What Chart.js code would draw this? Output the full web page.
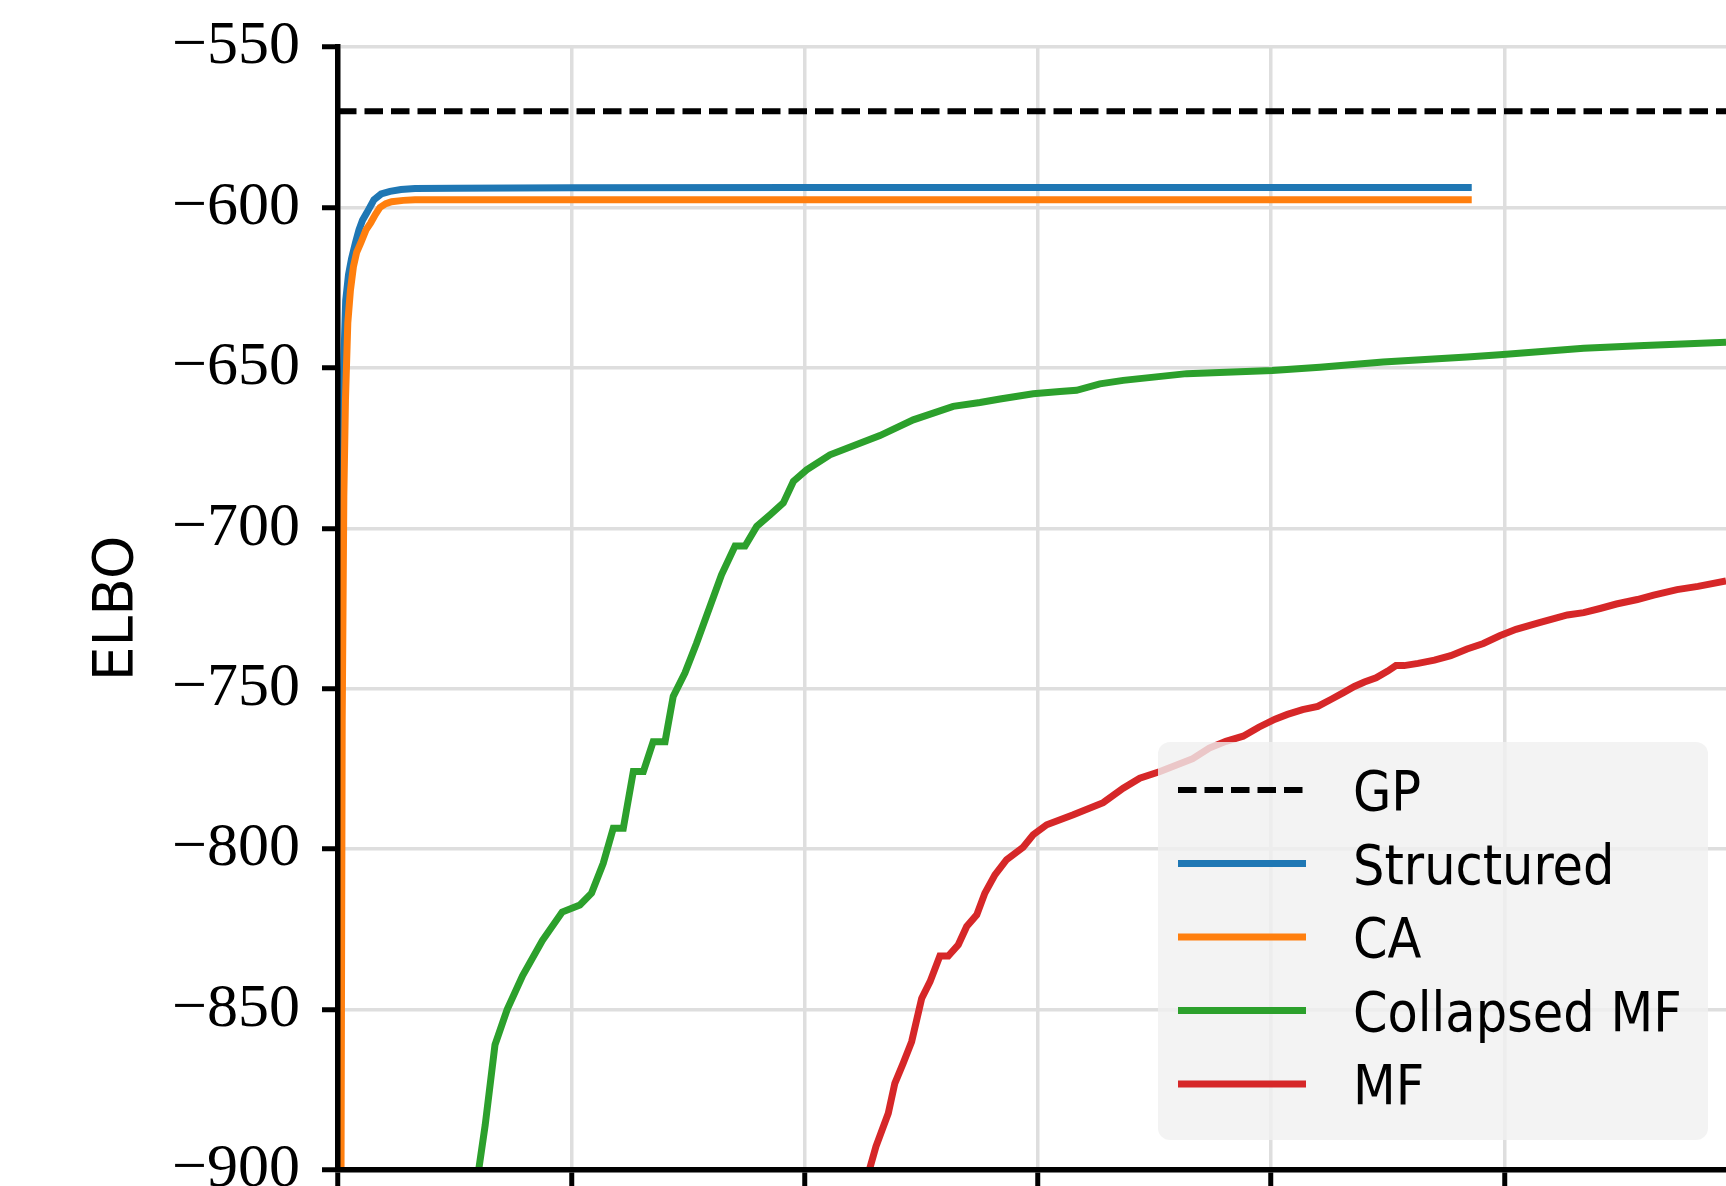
<!DOCTYPE html>
<html>
<head>
<meta charset="utf-8">
<script src="https://cdn.jsdelivr.net/npm/chart.js@4.4.0/dist/chart.umd.min.js"></script>
<style>
  html, body { margin: 0; padding: 0; background: #fff; overflow: hidden; }
  canvas { display: block; }
</style>
</head>
<body>
<canvas id="elbo" width="1726" height="1186"></canvas>
<script>
// x tick labels are cropped off in the source figure, so x is in plain units (100 per grid step)
const xTicks = [0, 100, 200, 300, 400, 500];
const yTicks = [-900, -850, -800, -750, -700, -650, -600, -550];

const gpX = [0, 595];
const gpY = [-570, -570];

const structuredX = [0.3, 0.9, 1.5, 2.2, 3.3, 4.5, 5.8, 7.5, 9, 10.5, 12.4, 15.4, 18.5, 22.3, 27, 33, 50, 100, 200, 300, 400, 486];
const structuredY = [-950, -760, -690, -655, -629, -621, -616, -611, -607, -604, -601.6, -597.6, -595.8, -595, -594.4, -594.1, -594.0, -593.9, -593.8, -593.8, -593.8, -593.8];

const caX = [0.5, 1.3, 1.8, 2.5, 3.2, 4.2, 5.3, 6.6, 8, 9.8, 12, 14, 16, 18, 20.5, 23, 28, 33, 50, 100, 200, 300, 400, 486];
const caY = [-1000, -900, -760, -690, -660, -636, -626, -618.5, -614, -611, -607, -604.8, -602.2, -600, -598.8, -598.2, -597.8, -597.6, -597.6, -597.6, -597.6, -597.6, -597.6, -597.6];

const collapsedX = [59.5, 63.1, 67.3, 72.5, 79.1, 87.6, 96.1, 103.7, 108.7, 113.7, 118.0, 122.3, 126.6, 130.9, 135.1, 140.2, 143.7, 148.7, 153.7, 164.4, 170.2, 174.5, 179.5, 185.2, 190.9, 195.2, 200.9, 210.9, 232.3, 246.6, 263.7, 275.2, 283.8, 298.0, 309.5, 316.6, 326.6, 336.6, 363.8, 400.5, 420.9, 448, 484, 498, 534, 560, 595];
const collapsedY = [-904, -886, -861, -850, -839.5, -828.5, -819.6, -817.4, -813.7, -804.4, -793.5, -793.5, -775.8, -775.8, -766.5, -766.5, -752.4, -745.1, -735.8, -714.5, -705.5, -705.5, -699.4, -695.8, -692.1, -685.4, -681.8, -677.1, -671.1, -666.2, -662.0, -660.8, -659.7, -658.1, -657.4, -657.0, -655.0, -653.9, -651.8, -650.8, -649.8, -648.2, -646.6, -645.9, -643.9, -643.0, -642.0];

const mfX = [226.5, 228.0, 230.6, 235.9, 238.7, 242.3, 245.9, 250.2, 253.8, 258.0, 261.6, 265.9, 269.5, 273.8, 277.3, 281.6, 286.6, 293.7, 298.0, 303.8, 315.2, 328.0, 336.6, 343.7, 352.4, 366.4, 373.5, 380.6, 388, 394.7, 401.7, 407, 413.5, 420, 426, 431, 435.7, 440, 445, 450, 453.5, 457, 463, 470, 477, 484, 491, 498, 505, 515, 522, 527, 534, 541, 548, 557, 564, 574, 583, 595];
const mfY = [-905, -899.4, -892.7, -882.3, -873.0, -866.7, -860.0, -846.5, -841.3, -833.3, -833.3, -829.8, -824.1, -820.5, -813.7, -808.0, -803.3, -799.4, -795.5, -792.4, -789.3, -785.5, -781.0, -777.9, -775.8, -771.8, -768.5, -766.4, -764.8, -762.0, -759.5, -758.0, -756.5, -755.5, -753.2, -751.2, -749.3, -747.9, -746.6, -744.5, -742.8, -742.8, -742.1, -741.1, -739.7, -737.6, -735.9, -733.5, -731.5, -729.4, -728.0, -727.0, -726.3, -725.0, -723.6, -722.2, -720.8, -719.1, -718.1, -716.4];

function pts(xs, ys) {
  return xs.map((x, i) => ({ x: x, y: ys[i] }));
}

function series(label, xs, ys, color, order, width, dash) {
  return {
    label: label,
    data: pts(xs, ys),
    borderColor: color,
    backgroundColor: color,
    borderWidth: width,
    borderDash: dash || [],
    pointRadius: 0,
    tension: 0,
    clip: 0,
    order: order,
  };
}

// legend box sits inside the axes, like matplotlib's
const boxLegend = {
  id: 'boxLegend',
  afterDraw(chart) {
    const ctx = chart.ctx;
    ctx.save();
    ctx.fillStyle = 'rgba(240, 240, 240, 0.8)';
    ctx.beginPath();
    ctx.roundRect(1158, 742, 550, 398, 12);
    ctx.fill();
    ctx.font = '55px "DejaVu Sans Condensed", "DejaVu Sans", sans-serif';
    ctx.textBaseline = 'alphabetic';
    ctx.fillStyle = '#000';
    chart.data.datasets.forEach((ds, i) => {
      const y = 790 + i * 73.5;
      ctx.strokeStyle = ds.borderColor;
      ctx.lineWidth = ds.borderWidth;
      ctx.setLineDash(ds.borderDash);
      ctx.beginPath();
      ctx.moveTo(1178, y);
      ctx.lineTo(1306, y);
      ctx.stroke();
      ctx.setLineDash([]);
      ctx.fillText(ds.label, 1353, y + 20);
    });
    ctx.restore();
  }
};

const gridColor = '#dedede';

new Chart(document.getElementById('elbo'), {
  type: 'line',
  data: {
    datasets: [
      series('GP', gpX, gpY, '#000000', 5, 6, [18.5, 8]),
      series('Structured', structuredX, structuredY, '#1f77b4', 4, 7),
      series('CA', caX, caY, '#ff7f0e', 3, 7),
      series('Collapsed MF', collapsedX, collapsedY, '#2ca02c', 2, 7),
      series('MF', mfX, mfY, '#d62728', 1, 7),
    ],
  },
  options: {
    responsive: false,
    animation: false,
    devicePixelRatio: 1,
    layout: { padding: { top: 47, right: 0, bottom: 0, left: 0 } },
    plugins: { legend: { display: false }, tooltip: { enabled: false } },
    scales: {
      x: {
        type: 'linear',
        min: 0,
        max: 595,
        afterBuildTicks: (s) => { s.ticks = xTicks.map(v => ({ value: v })); },
        ticks: { display: false },
        grid: { color: gridColor, lineWidth: 3.5, tickColor: '#000', tickWidth: 5, tickLength: 16 },
        border: { display: true, color: '#000', width: 5.5, z: 1 },
        afterFit: (s) => { s.height = 16; s.paddingLeft = 0; s.paddingRight = 0; },
      },
      y: {
        type: 'linear',
        min: -900,
        max: -550,
        afterBuildTicks: (s) => { s.ticks = yTicks.map(v => ({ value: v })); },
        ticks: {
          color: '#000',
          padding: 22,
          font: { family: '"Liberation Serif", "DejaVu Serif", serif', size: 62 },
          callback: (v) => '\u2212' + Math.abs(v),
        },
        grid: { color: gridColor, lineWidth: 3.5, tickColor: '#000', tickWidth: 5, tickLength: 16 },
        border: { display: true, color: '#000', width: 5.5, z: 1 },
        title: {
          display: true,
          text: 'ELBO',
          color: '#000',
          font: { family: '"DejaVu Sans", sans-serif', size: 55 },
          padding: { top: 85, bottom: 0 },
        },
        afterFit: (s) => { s.width = 338; s.paddingTop = 0; s.paddingBottom = 0; },
      },
    },
  },
  plugins: [boxLegend],
});
</script>
</body>
</html>
